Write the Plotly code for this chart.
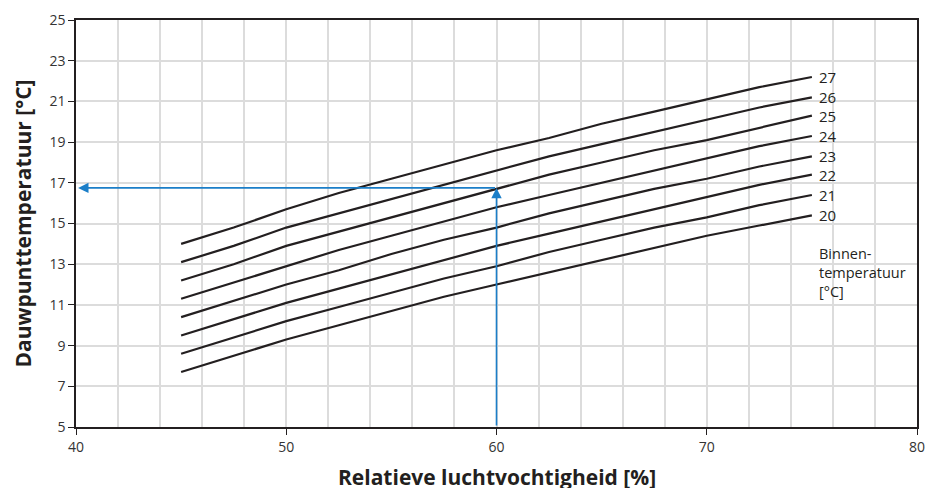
import plotly.graph_objects as go

rh = [45, 47.5, 50, 52.5, 55, 57.5, 60, 62.5, 65, 67.5, 70, 72.5, 75]
temps = [20, 21, 22, 23, 24, 25, 26, 27]
dew = {
    20: [7.7, 8.5, 9.3, 10.0, 10.7, 11.4, 12.0, 12.6, 13.2, 13.8, 14.4, 14.9, 15.4],
    21: [8.6, 9.4, 10.2, 10.9, 11.6, 12.3, 12.9, 13.6, 14.2, 14.8, 15.3, 15.9, 16.4],
    22: [9.5, 10.3, 11.1, 11.8, 12.5, 13.2, 13.9, 14.5, 15.1, 15.7, 16.3, 16.9, 17.4],
    23: [10.4, 11.2, 12.0, 12.7, 13.5, 14.2, 14.8, 15.5, 16.1, 16.7, 17.2, 17.8, 18.3],
    24: [11.3, 12.1, 12.9, 13.7, 14.4, 15.1, 15.8, 16.4, 17.0, 17.6, 18.2, 18.8, 19.3],
    25: [12.2, 13.0, 13.9, 14.6, 15.3, 16.0, 16.7, 17.4, 18.0, 18.6, 19.1, 19.7, 20.3],
    26: [13.1, 13.9, 14.8, 15.5, 16.2, 16.9, 17.6, 18.3, 18.9, 19.5, 20.1, 20.7, 21.2],
    27: [14.0, 14.8, 15.7, 16.5, 17.2, 17.9, 18.6, 19.2, 19.9, 20.5, 21.1, 21.7, 22.2],
}
x_ticks = [40, 50, 60, 70, 80]
y_ticks = [5, 7, 9, 11, 13, 15, 17, 19, 21, 23, 25]
example_rh = 60
example_dew = 16.75
legend_title = "Binnen-<br>temperatuur<br>[°C]"
legend_top = 14.1
x_title = "<b>Relatieve luchtvochtigheid [%]</b>"
y_title = "<b>Dauwpunttemperatuur [°C]</b>"

FONT = "Open Sans"
fig = go.Figure()

for t in temps:
    fig.add_trace(go.Scatter(x=rh, y=dew[t], mode="lines",
                             line=dict(color="#231f20", width=2.2),
                             showlegend=False, hoverinfo="skip"))
    fig.add_annotation(x=rh[-1], y=dew[t][-1], text=str(t), showarrow=False,
                       xanchor="left", yanchor="middle", xshift=5,
                       font=dict(family=FONT, size=15, color="#231f20"))

fig.add_annotation(x=rh[-1], y=legend_top, text=legend_title, showarrow=False,
                   xanchor="left", yanchor="top", xshift=5, align="left",
                   font=dict(family=FONT, size=14.5, color="#231f20"))

blue = "#1b7ec8"
fig.add_annotation(x=example_rh, y=example_dew, ax=example_rh, ay=5,
                   xref="x", yref="y", axref="x", ayref="y", text="",
                   showarrow=True, arrowhead=2, arrowsize=1.3, arrowwidth=1.6,
                   arrowcolor=blue, standoff=0)
fig.add_annotation(x=40.1, y=example_dew, ax=example_rh, ay=example_dew,
                   xref="x", yref="y", axref="x", ayref="y", text="",
                   showarrow=True, arrowhead=2, arrowsize=1.3, arrowwidth=1.6,
                   arrowcolor=blue, standoff=0)

# x-axis title placed as paper annotation so it can sit as low as in the reference
fig.add_annotation(x=0.5, y=0, xref="paper", yref="paper", text=x_title,
                   showarrow=False, xanchor="center", yanchor="top", yshift=-34,
                   font=dict(family=FONT, size=21, color="#231f20"))

fig.update_xaxes(range=[40, 80], tickvals=x_ticks, ticks="outside", ticklen=6,
                 tickcolor="#231f20", showline=True, linecolor="#231f20",
                 linewidth=1.5, mirror=True, automargin=False,
                 showgrid=False,
                 minor=dict(dtick=2, tick0=40, showgrid=True, gridcolor="#dcdcdc",
                            gridwidth=1.5),
                 tickfont=dict(family=FONT, size=14, color="#333333"),
                 zeroline=False)
fig.update_yaxes(range=[5, 25], tickvals=y_ticks, ticks="outside", ticklen=6,
                 tickcolor="#231f20", showline=True, linecolor="#231f20",
                 linewidth=1.5, mirror=True, automargin=False,
                 showgrid=True, gridcolor="#dcdcdc", gridwidth=1.5,
                 tickfont=dict(family=FONT, size=14, color="#333333"),
                 title=dict(text=y_title,
                            font=dict(family=FONT, size=21, color="#231f20"),
                            standoff=12),
                 zeroline=False)

fig.update_layout(width=927, height=488, margin=dict(l=76, r=10, t=20, b=61),
                  plot_bgcolor="white", paper_bgcolor="white")

fig.write_html("out.html", config={"displayModeBar": False},
               post_script="document.body.style.margin='0';document.body.style.overflow='hidden';")
